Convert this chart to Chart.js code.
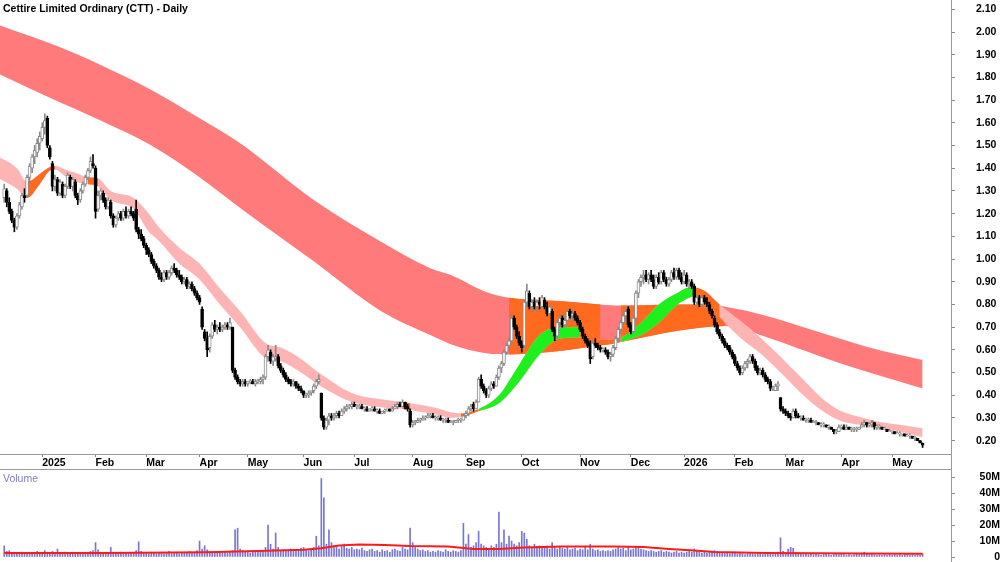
<!DOCTYPE html>
<html><head><meta charset="utf-8">
<script src="https://cdn.jsdelivr.net/npm/chart.js@4.4.1/dist/chart.umd.min.js"></script>
<style>
html,body{margin:0;padding:0;background:#fff;}
#wrap{position:relative;width:1000px;height:562px;overflow:hidden;font-family:"Liberation Sans",Arial,sans-serif;}
#c1{position:absolute;left:0;top:0;width:1000px;height:470px;}
#c2{position:absolute;left:0;top:470px;width:1000px;height:92px;}
#title{position:absolute;left:3px;top:2px;font-weight:bold;font-size:10.5px;color:#000;white-space:nowrap;}
#vlab{position:absolute;left:3px;top:472px;font-size:10.5px;color:#7f7fc4;white-space:nowrap;}
</style></head><body>
<div id="wrap">
<canvas id="c1" width="1000" height="470"></canvas>
<canvas id="c2" width="1000" height="92"></canvas>
<div id="title">Cettire Limited Ordinary (CTT) - Daily</div>
<div id="vlab">Volume</div>
</div>
<script>
// ---- tick labels (trading-day index of first session of each month) ----
const tickIdx = [15,36,56,77,96,118,138,161,182,204,227,247,268,288,308,330,350];
const tickLabels = ['2025','Feb','Mar','Apr','May','Jun','Jul','Aug','Sep','Oct','Nov','Dec','2026','Feb','Mar','Apr','May'];
const priceTicks = [0.2,0.3,0.4,0.5,0.6,0.7,0.8,0.9,1.0,1.1,1.2,1.3,1.4,1.5,1.6,1.7,1.8,1.9,2.0,2.1];
const volTicks = [0,10,20,30,40,50];
const volTickLabels = ['0','10M','20M','30M','40M','50M'];

// ---- daily OHLC ----
const open = [
1.27,1.30,1.25,1.21,1.17,1.14,1.19,1.23,1.28,1.28, 1.36,1.40,1.45,1.47,1.51,1.53,1.58,1.62,1.49,1.42,
1.32,1.35,1.29,1.33,1.28,1.32,1.36,1.32,1.34,1.28, 1.26,1.30,1.33,1.36,1.39,1.42,1.40,1.22,1.28,1.29,
1.26,1.23,1.25,1.19,1.15,1.18,1.20,1.18,1.21,1.19, 1.21,1.20,1.22,1.13,1.11,1.09,1.06,1.04,1.02,0.99,
0.97,0.95,0.92,0.91,0.94,0.92,0.94,0.96,0.95,0.93, 0.92,0.90,0.91,0.88,0.89,0.87,0.85,0.83,0.78,0.68,
0.65,0.61,0.66,0.71,0.69,0.70,0.69,0.70,0.71,0.70, 0.70,0.51,0.48,0.46,0.45,0.46,0.45,0.46,0.46,0.45,
0.46,0.46,0.47,0.48,0.57,0.59,0.55,0.56,0.57,0.53, 0.51,0.49,0.47,0.46,0.45,0.46,0.44,0.43,0.42,0.40,
0.40,0.41,0.42,0.44,0.46,0.41,0.30,0.26,0.29,0.31, 0.30,0.31,0.32,0.31,0.33,0.34,0.35,0.35,0.36,0.35,
0.35,0.35,0.34,0.34,0.33,0.34,0.34,0.33,0.33,0.32, 0.33,0.33,0.34,0.33,0.34,0.35,0.36,0.35,0.37,0.35,
0.33,0.27,0.28,0.28,0.29,0.29,0.30,0.30,0.31,0.31, 0.30,0.30,0.30,0.29,0.29,0.29,0.28,0.28,0.28,0.29,
0.29,0.29,0.31,0.32,0.34,0.36,0.34,0.37,0.47,0.44, 0.42,0.40,0.43,0.45,0.44,0.48,0.52,0.54,0.59,0.62,
0.64,0.74,0.70,0.66,0.63,0.62,0.81,0.85,0.79,0.81, 0.79,0.81,0.79,0.82,0.79,0.76,0.77,0.69,0.66,0.72,
0.74,0.71,0.73,0.77,0.75,0.76,0.74,0.72,0.69,0.66, 0.64,0.63,0.57,0.63,0.62,0.61,0.60,0.60,0.59,0.57,
0.58,0.61,0.65,0.69,0.72,0.75,0.78,0.71,0.68,0.74, 0.85,0.90,0.92,0.93,0.91,0.93,0.91,0.88,0.92,0.90,
0.94,0.91,0.89,0.91,0.94,0.92,0.95,0.92,0.90,0.93, 0.89,0.90,0.88,0.81,0.83,0.80,0.83,0.81,0.80,0.77,
0.74,0.71,0.68,0.66,0.64,0.62,0.61,0.59,0.57,0.54, 0.52,0.50,0.52,0.54,0.55,0.57,0.55,0.52,0.50,0.51,
0.49,0.47,0.46,0.43,0.42,0.44,0.39,0.34,0.33,0.32, 0.31,0.30,0.33,0.31,0.30,0.30,0.29,0.29,0.29,0.28,
0.28,0.28,0.27,0.27,0.27,0.26,0.26,0.25,0.24,0.24, 0.26,0.26,0.25,0.26,0.25,0.25,0.25,0.25,0.26,0.27,
0.28,0.27,0.27,0.28,0.26,0.26,0.26,0.25,0.25,0.24, 0.24,0.24,0.23,0.23,0.23,0.23,0.22,0.22,0.22,0.21,
0.21,0.20,0.19];
const high = [
1.33,1.31,1.27,1.22,1.18,1.20,1.25,1.29,1.31,1.37, 1.42,1.46,1.50,1.53,1.56,1.60,1.64,1.63,1.50,1.43,
1.37,1.36,1.35,1.34,1.33,1.38,1.37,1.36,1.35,1.29, 1.31,1.34,1.37,1.40,1.45,1.46,1.41,1.30,1.31,1.30,
1.27,1.27,1.26,1.20,1.19,1.21,1.21,1.22,1.23,1.22, 1.23,1.21,1.26,1.14,1.13,1.10,1.07,1.05,1.03,1.00,
0.98,0.96,0.94,0.95,0.95,0.95,0.97,0.98,0.96,0.95, 0.93,0.92,0.92,0.90,0.90,0.88,0.86,0.84,0.79,0.69,
0.68,0.67,0.72,0.73,0.71,0.72,0.71,0.72,0.72,0.74, 0.70,0.52,0.49,0.47,0.47,0.47,0.46,0.47,0.47,0.47,
0.47,0.48,0.49,0.58,0.62,0.60,0.58,0.62,0.58,0.54, 0.52,0.50,0.48,0.47,0.47,0.46,0.45,0.44,0.42,0.41,
0.42,0.42,0.45,0.47,0.49,0.41,0.31,0.30,0.32,0.32, 0.32,0.33,0.33,0.34,0.35,0.36,0.36,0.37,0.37,0.36,
0.36,0.36,0.35,0.35,0.34,0.35,0.35,0.34,0.34,0.33, 0.34,0.34,0.34,0.35,0.36,0.37,0.37,0.38,0.37,0.36,
0.34,0.29,0.29,0.30,0.30,0.31,0.31,0.32,0.32,0.32, 0.31,0.31,0.31,0.30,0.30,0.30,0.29,0.29,0.29,0.30,
0.30,0.31,0.33,0.35,0.36,0.37,0.38,0.48,0.49,0.45, 0.43,0.44,0.46,0.46,0.49,0.53,0.55,0.60,0.63,0.65,
0.76,0.75,0.71,0.68,0.64,0.82,0.89,0.86,0.82,0.83, 0.82,0.83,0.84,0.83,0.81,0.80,0.78,0.70,0.73,0.76,
0.75,0.74,0.78,0.78,0.77,0.77,0.75,0.73,0.70,0.67, 0.65,0.64,0.64,0.65,0.63,0.62,0.61,0.61,0.60,0.59,
0.62,0.66,0.70,0.73,0.76,0.79,0.79,0.72,0.75,0.86, 0.91,0.93,0.95,0.95,0.94,0.95,0.93,0.93,0.94,0.95,
0.95,0.92,0.92,0.95,0.96,0.96,0.96,0.94,0.95,0.94, 0.91,0.91,0.89,0.84,0.84,0.84,0.84,0.83,0.81,0.78,
0.75,0.72,0.69,0.67,0.65,0.63,0.62,0.60,0.58,0.55, 0.53,0.53,0.55,0.56,0.58,0.58,0.56,0.53,0.52,0.52,
0.50,0.48,0.47,0.44,0.45,0.46,0.39,0.35,0.34,0.33, 0.32,0.34,0.34,0.32,0.31,0.31,0.30,0.30,0.30,0.29,
0.29,0.28,0.28,0.28,0.27,0.27,0.26,0.25,0.25,0.27, 0.27,0.27,0.27,0.26,0.26,0.26,0.26,0.26,0.28,0.29,
0.28,0.28,0.29,0.28,0.27,0.27,0.26,0.26,0.25,0.25, 0.24,0.24,0.24,0.24,0.23,0.23,0.23,0.23,0.22,0.22,
0.21,0.20,0.19];
const low = [
1.25,1.23,1.20,1.16,1.12,1.13,1.18,1.22,1.25,1.27, 1.34,1.38,1.42,1.45,1.48,1.52,1.55,1.49,1.44,1.30,
1.30,1.28,1.28,1.27,1.27,1.31,1.31,1.30,1.27,1.24, 1.25,1.29,1.32,1.35,1.38,1.40,1.18,1.21,1.26,1.25,
1.22,1.22,1.18,1.14,1.14,1.17,1.17,1.17,1.18,1.18, 1.19,1.17,1.12,1.09,1.08,1.05,1.02,1.01,0.98,0.96,
0.94,0.91,0.90,0.90,0.91,0.91,0.93,0.94,0.92,0.91, 0.89,0.89,0.87,0.87,0.86,0.84,0.82,0.80,0.69,0.64,
0.57,0.59,0.65,0.68,0.67,0.68,0.68,0.69,0.69,0.69, 0.50,0.47,0.45,0.44,0.44,0.44,0.44,0.45,0.45,0.44,
0.45,0.45,0.45,0.47,0.55,0.54,0.53,0.55,0.52,0.50, 0.48,0.46,0.45,0.44,0.44,0.43,0.42,0.41,0.39,0.39,
0.39,0.40,0.41,0.43,0.45,0.29,0.25,0.25,0.27,0.29, 0.29,0.30,0.30,0.31,0.32,0.33,0.34,0.34,0.35,0.34,
0.34,0.34,0.33,0.33,0.33,0.33,0.33,0.32,0.32,0.32, 0.32,0.33,0.33,0.33,0.34,0.34,0.35,0.35,0.34,0.33,
0.26,0.26,0.27,0.28,0.28,0.29,0.29,0.30,0.30,0.30, 0.29,0.29,0.29,0.28,0.28,0.28,0.28,0.27,0.28,0.28,
0.28,0.29,0.30,0.31,0.33,0.33,0.34,0.37,0.43,0.41, 0.39,0.39,0.42,0.43,0.44,0.47,0.50,0.53,0.58,0.60,
0.63,0.69,0.65,0.62,0.59,0.61,0.79,0.78,0.77,0.78, 0.77,0.78,0.78,0.78,0.75,0.75,0.68,0.64,0.65,0.70,
0.70,0.70,0.72,0.74,0.73,0.73,0.71,0.68,0.65,0.63, 0.61,0.54,0.56,0.61,0.60,0.59,0.59,0.58,0.56,0.55,
0.57,0.60,0.64,0.67,0.70,0.73,0.70,0.67,0.67,0.73, 0.83,0.88,0.89,0.90,0.89,0.90,0.87,0.87,0.89,0.89,
0.90,0.88,0.88,0.90,0.91,0.91,0.91,0.89,0.89,0.88, 0.87,0.87,0.80,0.80,0.79,0.79,0.80,0.79,0.76,0.74,
0.70,0.67,0.65,0.63,0.61,0.60,0.58,0.56,0.53,0.51, 0.49,0.49,0.51,0.52,0.54,0.54,0.51,0.49,0.49,0.48,
0.46,0.45,0.42,0.42,0.42,0.42,0.33,0.32,0.31,0.30, 0.29,0.30,0.30,0.30,0.29,0.29,0.28,0.28,0.28,0.28,
0.27,0.27,0.26,0.26,0.26,0.25,0.25,0.23,0.23,0.24, 0.25,0.25,0.25,0.25,0.24,0.24,0.24,0.25,0.26,0.26,
0.26,0.26,0.26,0.25,0.25,0.25,0.25,0.25,0.24,0.24, 0.23,0.23,0.23,0.22,0.22,0.22,0.22,0.21,0.21,0.20,
0.20,0.19,0.17];
const close = [
1.31,1.25,1.21,1.17,1.14,1.19,1.24,1.28,1.27,1.36, 1.41,1.45,1.48,1.51,1.54,1.58,1.61,1.50,1.45,1.32,
1.35,1.29,1.34,1.28,1.32,1.37,1.32,1.35,1.28,1.26, 1.30,1.33,1.36,1.39,1.43,1.41,1.21,1.28,1.30,1.26,
1.23,1.26,1.19,1.15,1.18,1.20,1.18,1.21,1.19,1.21, 1.20,1.18,1.13,1.11,1.09,1.06,1.04,1.02,0.99,0.97,
0.95,0.92,0.91,0.94,0.92,0.94,0.96,0.95,0.93,0.92, 0.90,0.91,0.88,0.89,0.87,0.85,0.83,0.81,0.70,0.65,
0.60,0.66,0.71,0.69,0.70,0.69,0.70,0.71,0.70,0.72, 0.51,0.48,0.46,0.45,0.46,0.45,0.46,0.46,0.45,0.46,
0.46,0.47,0.48,0.57,0.60,0.55,0.57,0.57,0.53,0.51, 0.49,0.47,0.46,0.45,0.46,0.44,0.43,0.42,0.40,0.40,
0.41,0.42,0.44,0.46,0.47,0.30,0.26,0.29,0.31,0.30, 0.31,0.32,0.31,0.33,0.34,0.35,0.35,0.36,0.35,0.35,
0.35,0.34,0.34,0.33,0.34,0.34,0.33,0.33,0.32,0.33, 0.33,0.34,0.33,0.34,0.35,0.36,0.35,0.37,0.35,0.34,
0.27,0.28,0.28,0.29,0.29,0.30,0.30,0.31,0.31,0.30, 0.30,0.30,0.29,0.29,0.29,0.28,0.28,0.28,0.29,0.29,
0.29,0.31,0.32,0.34,0.35,0.34,0.37,0.47,0.44,0.42, 0.40,0.43,0.45,0.44,0.48,0.52,0.54,0.59,0.62,0.64,
0.74,0.70,0.66,0.63,0.61,0.81,0.86,0.79,0.81,0.79, 0.81,0.80,0.83,0.79,0.76,0.79,0.69,0.66,0.72,0.74,
0.71,0.73,0.77,0.75,0.76,0.74,0.72,0.69,0.66,0.64, 0.62,0.56,0.63,0.62,0.61,0.60,0.60,0.59,0.57,0.58,
0.61,0.65,0.69,0.72,0.75,0.77,0.71,0.68,0.74,0.85, 0.90,0.92,0.93,0.91,0.93,0.91,0.88,0.92,0.90,0.94,
0.91,0.89,0.91,0.94,0.92,0.95,0.92,0.90,0.93,0.89, 0.90,0.88,0.81,0.83,0.80,0.83,0.81,0.80,0.77,0.75,
0.71,0.68,0.66,0.64,0.62,0.61,0.59,0.57,0.54,0.52, 0.50,0.52,0.54,0.55,0.57,0.55,0.52,0.50,0.51,0.49,
0.47,0.46,0.43,0.43,0.44,0.45,0.34,0.33,0.32,0.31, 0.30,0.33,0.31,0.30,0.30,0.29,0.29,0.29,0.28,0.28,
0.28,0.27,0.27,0.27,0.26,0.26,0.25,0.24,0.24,0.26, 0.26,0.25,0.26,0.25,0.25,0.25,0.25,0.26,0.27,0.28,
0.27,0.27,0.28,0.26,0.26,0.26,0.25,0.25,0.24,0.24, 0.24,0.23,0.23,0.23,0.23,0.22,0.22,0.22,0.21,0.21,
0.20,0.19,0.18];

// ---- daily volume (millions) ----
const volume = [
7.0,3.5,4.0,2.5,3.0,2.0,2.5,3.0,2.0,2.5, 3.0,2.5,2.0,3.5,2.5,3.0,4.0,3.0,2.5,3.5,
2.5,5.0,2.0,2.5,3.0,2.0,2.5,3.0,2.0,2.5, 2.0,2.5,3.0,2.5,3.5,4.0,9.0,4.5,3.0,2.5,
2.0,2.5,6.0,3.0,2.0,2.5,3.0,2.0,2.5,2.0, 2.5,3.0,4.0,9.5,3.5,3.0,2.5,2.0,3.0,2.5,
2.0,2.5,3.0,2.0,2.5,3.5,2.0,2.5,3.0,2.0, 2.5,3.0,2.5,3.5,2.5,3.0,4.0,10.0,5.0,7.0,
4.5,3.5,3.0,2.5,3.5,3.0,2.5,3.0,2.5,3.5, 4.0,17.0,18.0,5.0,4.0,3.5,3.0,2.5,3.0,3.5,
3.0,3.5,4.0,6.0,20.0,8.0,5.0,15.0,6.0,4.0, 4.5,3.5,4.0,5.0,3.5,4.0,4.5,5.5,6.0,4.5,
4.0,5.0,6.0,13.0,7.0,49.0,37.0,8.0,17.0,9.0, 7.0,6.0,5.0,6.5,8.0,5.5,5.0,6.0,4.5,5.0,
4.5,5.5,4.0,3.5,4.5,5.0,3.5,4.0,3.0,4.5, 3.5,4.0,3.0,4.5,5.0,4.0,3.5,6.0,5.0,4.5,
18.0,9.0,6.0,5.0,4.0,4.5,3.5,4.0,3.0,3.5, 3.0,4.0,3.5,3.0,4.5,3.5,3.0,4.0,3.5,3.0,
4.0,21.0,8.0,14.0,6.0,7.0,9.0,16.0,8.0,7.0, 6.0,5.5,7.0,6.0,8.0,28.0,9.0,17.0,8.0,13.0,
10.0,8.0,7.0,9.0,16.0,15.0,11.0,7.0,6.0,8.0, 6.5,7.0,5.5,6.0,7.0,5.0,9.0,6.0,5.0,6.5,
5.5,5.0,6.0,4.5,5.0,5.5,4.0,5.0,4.5,6.0, 4.5,8.0,5.0,4.0,4.5,3.5,4.0,3.5,4.0,3.5,
4.5,5.0,6.0,5.0,5.5,4.0,6.0,4.5,5.0,6.5, 6.0,5.0,4.5,4.0,3.5,4.0,3.5,3.0,3.5,4.0,
3.0,3.5,3.0,2.5,3.0,3.5,2.5,3.0,2.5,3.0, 3.5,3.0,5.0,3.5,3.0,2.5,3.0,2.5,3.5,3.0,
4.0,3.5,3.0,2.5,3.0,2.5,2.0,2.5,3.0,2.0, 2.5,2.0,1.5,2.0,2.5,2.0,1.5,2.0,2.5,1.5,
2.0,2.5,2.0,1.5,2.0,3.0,12.0,3.5,2.5,5.0, 6.0,5.5,3.0,2.5,2.0,1.5,2.0,1.5,2.0,1.5,
2.0,1.5,1.0,1.5,2.0,1.5,1.0,1.5,2.0,1.5, 2.0,1.5,1.0,1.5,1.0,1.5,2.0,1.5,2.0,3.0,
2.0,1.5,2.0,1.5,1.0,1.5,1.0,1.5,1.0,1.5, 1.0,1.5,1.0,1.5,1.0,1.5,2.0,1.0,1.5,1.0,
1.5,1.0,2.0];

// ---- volume average line (read at sample days) ----
const volAvgIdx = [0,40,80,100,118,125,132,140,150,160,175,185,195,205,220,240,252,262,272,280,290,300,320,340,362];
const volAvg    = [2.5,2.5,3.0,3.8,4.5,5.5,7.2,7.8,7.5,6.8,6.5,5.0,5.0,6.0,6.5,6.5,6.2,5.0,4.0,3.2,2.8,2.5,2.4,2.2,2.0];

// ---- long-term band (read at sample days) ----
const longIdx   = [-2,18,38,58,77,93,122,148,168,176,190,199,219,235,243,266,284,302,322,341,362];
const longTop   = [2.03,1.95,1.855,1.745,1.62,1.51,1.26,1.08,0.96,0.93,0.855,0.83,0.815,0.80,0.795,0.80,0.79,0.745,0.675,0.61,0.555];
const longBot   = [1.815,1.71,1.61,1.50,1.36,1.225,0.99,0.775,0.665,0.625,0.585,0.58,0.595,0.62,0.635,0.685,0.705,0.65,0.57,0.50,0.43];
const longState = ['r','r','r','r','r','r','r','r','r','r','r','o','o','r','o','o','r','r','r','r','r'];

// ---- short-term band (read at sample days) ----
const shortIdx   = [-2,5,9,14,18,20,24,28,33,37,42,51,57,61,69,77,85,93,103,109,117,124,137,150,157,160,170,176,180,187,195,203,211,219,227,235,243,251,258,266,270,272,276,282,290,298,306,314,322,329,337,342,343,353,362];
const shortTop   = [1.45,1.40,1.34,1.375,1.405,1.41,1.395,1.38,1.36,1.355,1.30,1.27,1.20,1.14,1.05,0.98,0.87,0.77,0.63,0.61,0.56,0.50,0.41,0.38,0.37,0.365,0.345,0.325,0.32,0.34,0.40,0.535,0.665,0.70,0.70,0.645,0.655,0.72,0.80,0.855,0.875,0.875,0.86,0.80,0.73,0.655,0.57,0.48,0.39,0.335,0.305,0.29,0.287,0.27,0.255];
const shortBot   = [1.355,1.31,1.27,1.33,1.39,1.395,1.365,1.34,1.33,1.32,1.26,1.22,1.12,1.08,0.98,0.91,0.80,0.70,0.565,0.55,0.50,0.445,0.37,0.345,0.34,0.335,0.315,0.30,0.305,0.33,0.365,0.46,0.58,0.65,0.655,0.62,0.635,0.665,0.72,0.805,0.83,0.835,0.82,0.745,0.655,0.585,0.50,0.41,0.335,0.29,0.27,0.262,0.26,0.24,0.215];
const shortState = ['p','p','o','o','o','p','p','p','o','p','p','p','p','p','p','p','p','p','p','p','p','p','p','p','o','p','p','p','o','g','g','g','g','g','o','o','g','g','g','g','g','o','o','p','p','p','p','p','p','p','p','o','p','p','p'];

// ---- styling ----
const LONG_COL  = {r:'#ff7a7a', o:'#ff6a1f'};
const SHORT_COL = {p:'#ffb4b4', o:'#ff6a1f', g:'#1ef01e'};
const FONT = "'Liberation Sans', Arial, sans-serif";
Chart.defaults.font.family = FONT;
Chart.defaults.animation = false;

const X_MIN = -1.66, X_MAX = 373.2;
const CLEAR = 'rgba(0,0,0,0)';

function pair(idx, top, bot, bg, segFn, order) {
  return [
    {type:'line', data: idx.map((x,k)=>({x, y: top[k]})), fill: '+1',
     backgroundColor: bg, borderWidth: 0, borderColor: CLEAR,
     pointRadius: 0, cubicInterpolationMode: 'monotone', order,
     segment: segFn ? { backgroundColor: segFn } : undefined},
    {type:'line', data: idx.map((x,k)=>({x, y: bot[k]})), fill: false,
     borderWidth: 0, borderColor: CLEAR, pointRadius: 0,
     cubicInterpolationMode: 'monotone', order}
  ];
}
// base colour fill, then an overlay filled only where the state differs from the base
function band(idx, top, bot, states, pal, baseKey, order) {
  return [
    ...pair(idx, top, bot, pal[baseKey], null, order + 1),
    ...pair(idx, top, bot, CLEAR, c => {
      const s = states[c.p0DataIndex];
      return s === baseKey ? CLEAR : pal[s];
    }, order)
  ];
}

const up = close.map((c,i)=> c >= open[i]);
const wickData = close.map((c,i)=>({x:i, y:[Math.min(low[i],open[i],c), Math.max(high[i],open[i],c)]}));
const bodyData = close.map((c,i)=>({x:i, y:[Math.min(open[i],c), Math.max(open[i],c)]}));

function noPad(s) { s.paddingTop = 0; s.paddingBottom = 0; s.paddingLeft = 0; s.paddingRight = 0; }

const frame1 = {
  id: 'frame1',
  afterDraw(chart) {
    const ctx = chart.ctx, r = Math.round(chart.chartArea.right) + 0.5;
    ctx.save();
    ctx.strokeStyle = '#9a9a9a'; ctx.lineWidth = 1;
    ctx.beginPath();
    ctx.moveTo(0, 469.5); ctx.lineTo(r, 469.5);
    ctx.moveTo(r, 0); ctx.lineTo(r, 470);
    ctx.stroke();
    ctx.restore();
  }
};
const frame2 = {
  id: 'frame2',
  afterDraw(chart) {
    const ctx = chart.ctx, r = Math.round(chart.chartArea.right) + 0.5;
    ctx.save();
    ctx.strokeStyle = '#9a9a9a'; ctx.lineWidth = 1;
    ctx.beginPath(); ctx.moveTo(r, 0); ctx.lineTo(r, 92); ctx.stroke();
    ctx.restore();
  }
};

new Chart(document.getElementById('c1'), {
  type: 'bar',
  data: { datasets: [
    ...band(longIdx, longTop, longBot, longState, LONG_COL, 'r', 10),
    ...band(shortIdx, shortTop, shortBot, shortState, SHORT_COL, 'p', 5),
    {type:'bar', data: wickData, barThickness: 1, grouped: false, order: 2,
     backgroundColor: close.map((c,i)=> up[i] ? '#8a8a8a' : '#000000')},
    {type:'bar', data: bodyData, barThickness: 3, grouped: false, order: 1, minBarLength: 1,
     borderSkipped: false, borderWidth: 1,
     backgroundColor: close.map((c,i)=> up[i] ? '#ffffff' : '#000000'),
     borderColor: close.map((c,i)=> up[i] ? '#8a8a8a' : '#000000')}
  ]},
  options: {
    responsive: false, animation: false, events: [],
    layout: { padding: 0, autoPadding: false },
    plugins: { legend: {display:false}, tooltip: {enabled:false}, title: {display:false} },
    scales: {
      x: {
        type: 'linear', position: 'bottom', min: X_MIN, max: X_MAX, offset: false,
        afterFit: s => { s.height = 16; noPad(s); },
        afterBuildTicks: s => { s.ticks = tickIdx.map(v => ({value: v})); },
        ticks: { autoSkip: false, maxRotation: 0, align: 'start', padding: 0,
                 color: '#000', font: {size: 10.5, weight: 'bold', family: FONT},
                 callback: v => tickLabels[tickIdx.indexOf(v)] },
        grid: { drawOnChartArea: false, drawTicks: true, tickLength: 3, color: '#8a8a8a', offset: false },
        border: { display: true, color: '#9a9a9a' }
      },
      y: {
        type: 'linear', position: 'right', min: 0.1414, max: 2.141,
        afterFit: s => { s.width = 49; noPad(s); },
        afterBuildTicks: s => { s.ticks = priceTicks.map(v => ({value: v})); },
        ticks: { autoSkip: false, padding: 21, crossAlign: 'near', color: '#000',
                 font: {size: 10.5, weight: 'bold', family: FONT},
                 callback: v => v.toFixed(2) },
        grid: { drawOnChartArea: false, drawTicks: true, tickLength: 4, color: '#8a8a8a' },
        border: { display: true, color: '#9a9a9a' }
      }
    }
  },
  plugins: [frame1]
});

new Chart(document.getElementById('c2'), {
  type: 'bar',
  data: { datasets: [
    {type:'line', data: volAvgIdx.map((x,k)=>({x, y: volAvg[k]})), borderColor: '#ff1a1a',
     borderWidth: 2, pointRadius: 0, fill: false, order: 1},
    {type:'bar', data: volume.map((v,i)=>({x:i, y:v})), backgroundColor: '#7676d6',
     barThickness: 1, grouped: false, order: 2}
  ]},
  options: {
    responsive: false, animation: false, events: [],
    layout: { padding: {left:0, right:0, top:0, bottom:5}, autoPadding: false },
    plugins: { legend: {display:false}, tooltip: {enabled:false} },
    scales: {
      x: { type: 'linear', min: X_MIN, max: X_MAX, offset: false, display: false },
      y: {
        type: 'linear', position: 'right', min: 0, max: 54.375,
        afterFit: s => { s.width = 49; noPad(s); },
        afterBuildTicks: s => { s.ticks = volTicks.map(v => ({value: v})); },
        ticks: { autoSkip: false, padding: 21, crossAlign: 'far', color: '#000',
                 font: {size: 10.5, weight: 'bold', family: FONT},
                 callback: v => volTickLabels[volTicks.indexOf(v)] },
        grid: { drawOnChartArea: false, drawTicks: true, tickLength: 4, color: '#8a8a8a' },
        border: { display: true, color: '#9a9a9a' }
      }
    }
  },
  plugins: [frame2]
});
</script>
</body></html>
